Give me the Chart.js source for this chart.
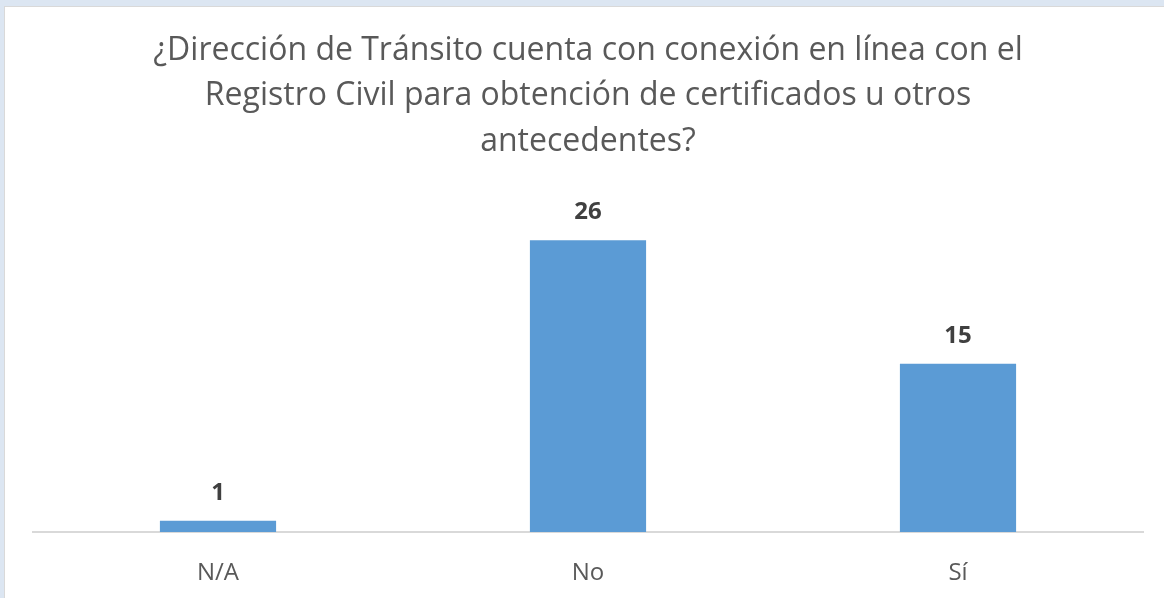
<!DOCTYPE html>
<html>
<head>
<meta charset="utf-8">
<script src="https://cdn.jsdelivr.net/npm/chart.js@4/dist/chart.umd.min.js"></script>
<style>
    body { margin: 0; background: #dce6f2; overflow: hidden; }
    #frame {
        position: absolute; left: 4px; top: 6px; width: 1160px; height: 592px;
        background: #ffffff; border-left: 1px solid #d9d9d9; border-top: 1px solid #d9d9d9;
    }
    #chart { display: block; }
</style>
</head>
<body>
<div id="frame"><canvas id="chart" width="1159" height="591"></canvas></div>
<script>
const categories = ['N/A', 'No', 'Sí'];
const respuestas = [1, 26, 15];
const titleLines = [
    '¿Dirección de Tránsito cuenta con conexión en línea con el',
    'Registro Civil para obtención de certificados u otros',
    'antecedentes?'
];

// Etiquetas de valor encima de cada barra
const valueLabels = {
    id: 'valueLabels',
    afterDatasetsDraw(chart) {
        const ctx = chart.ctx;
        const meta = chart.getDatasetMeta(0);
        ctx.save();
        ctx.font = 'bold 24px "Open Sans"';
        ctx.fillStyle = '#404040';
        ctx.textAlign = 'center';
        ctx.textBaseline = 'middle';
        meta.data.forEach((bar, i) => {
            ctx.fillText(String(respuestas[i]), bar.x, bar.y - 28);
        });
        ctx.restore();
    }
};

const ctx = document.getElementById('chart').getContext('2d');
new Chart(ctx, {
    type: 'bar',
    data: {
        labels: categories,
        datasets: [{
            data: respuestas,
            backgroundColor: '#5b9bd5',
            borderWidth: 0,
            categoryPercentage: 1,
            barPercentage: 0.314
        }]
    },
    options: {
        responsive: false,
        animation: false,
        layout: { padding: { left: 28, right: 21, top: 21, bottom: 0 } },
        plugins: {
            legend: { display: false },
            tooltip: { enabled: false },
            title: {
                display: true,
                text: titleLines,
                color: '#595959',
                font: { family: 'Open Sans', size: 32, weight: 'normal', lineHeight: 1.42 },
                padding: { top: 0, bottom: 31 }
            }
        },
        scales: {
            x: {
                grid: { display: false, drawTicks: false },
                border: { color: '#d9d9d9', width: 2 },
                ticks: { color: '#595959', font: { family: 'Open Sans', size: 24 }, padding: 27 },
                afterFit(scale) { scale.height = 66; }
            },
            y: {
                display: false,
                min: 0,
                max: 30
            }
        }
    },
    plugins: [valueLabels]
});
</script>
</body>
</html>
